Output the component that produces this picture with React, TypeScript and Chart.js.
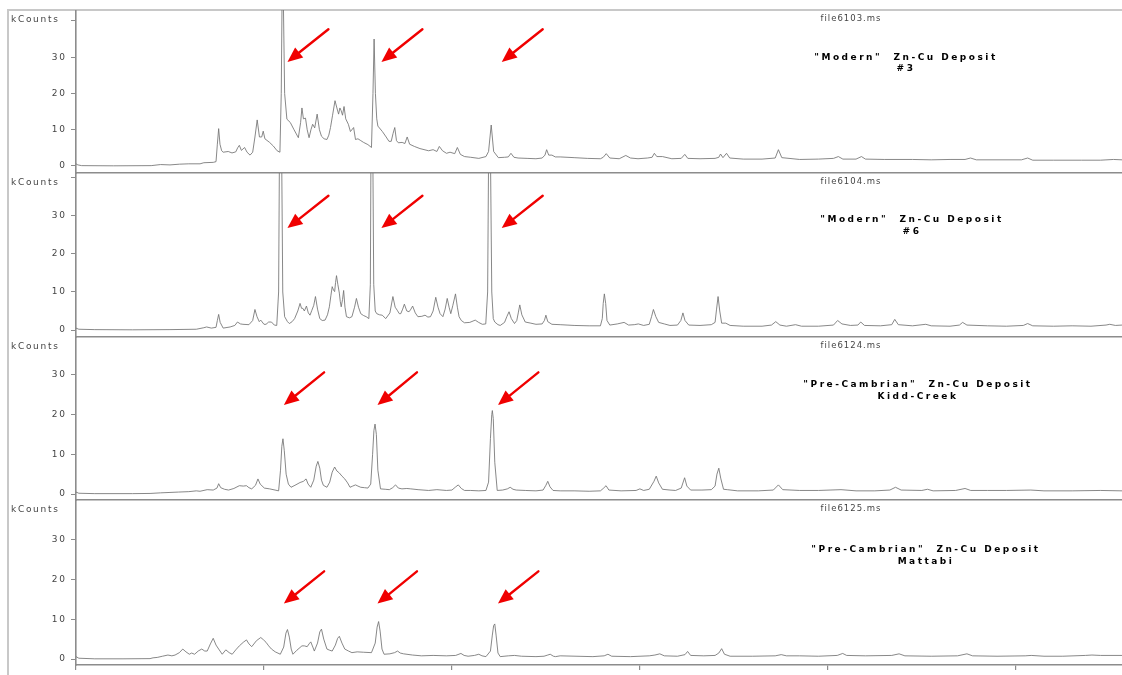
import React, { useEffect, useRef } from 'react';
import { Chart, registerables } from 'chart.js';

Chart.register(...registerables);

// ---------- data ----------
const FILE_NAMES = ['file6103.ms', 'file6104.ms', 'file6124.ms', 'file6125.ms'];
const TITLE_LINE1 = [
  '"Modern"  Zn-Cu Deposit',
  '"Modern"  Zn-Cu Deposit',
  '"Pre-Cambrian"  Zn-Cu Deposit',
  '"Pre-Cambrian"  Zn-Cu Deposit',
];
const TITLE_LINE2 = ['#3', '#6', 'Kidd-Creek', 'Mattabi'];
const Y_LABEL = 'kCounts';
const Y_TICK_LABELS = [0, 10, 20, 30];
const X_MIN = 0;
const X_MAX = 55.65;
const X_STEP = 10;

type Pt = [number, number];

const TRACE_1: Pt[] = [
  [0, 0.6], [0.1, 0.3], [0.3, 0.1], [2, 0.05], [4, 0.1], [4.5, 0.4], [5, 0.3], [5.5, 0.5], [6, 0.6], [6.6, 0.6], [6.8, 0.9], [7.3, 1.0], [7.45, 1.2],
  [7.52, 6], [7.59, 10.3], [7.66, 6], [7.75, 4.2], [7.83, 3.8], [8.1, 4.0], [8.3, 3.6], [8.5, 3.9],
  [8.6, 5.0], [8.69, 5.7], [8.8, 4.3], [8.97, 5.1], [9.1, 3.8], [9.26, 3.0], [9.4, 3.8], [9.52, 8], [9.64, 12.7], [9.76, 8], [9.88, 8.0], [9.96, 9.6], [10.05, 7.5], [10.3, 6.5], [10.5, 5.5], [10.7, 4.2], [10.85, 3.8],
  [10.92, 20], [10.97, 50], [11.02, 50], [11.1, 20], [11.22, 12.9], [11.4, 12], [11.6, 10], [11.83, 7.8], [11.95, 12], [12.02, 16], [12.1, 13], [12.21, 13.2], [12.3, 10], [12.4, 7.8], [12.5, 10], [12.59, 11.5], [12.7, 10.5], [12.83, 14.3], [12.95, 10], [13.06, 8.2], [13.2, 7.5], [13.35, 7.3], [13.45, 8.5], [13.54, 10.6], [13.65, 14], [13.78, 18], [13.88, 16], [13.97, 14.3], [14.04, 16], [14.11, 15.2], [14.18, 14], [14.26, 16.4], [14.35, 13], [14.49, 11.5], [14.6, 9.5], [14.77, 10.6], [14.87, 7.3], [15.0, 7.5], [15.15, 7.0], [15.3, 6.5], [15.53, 5.9], [15.72, 5.1],
  [15.8, 20], [15.86, 35], [15.93, 20], [16.0, 13], [16.06, 11], [16.3, 9.5], [16.5, 8], [16.65, 6.8], [16.77, 6.8], [16.87, 9], [16.96, 10.6], [17.05, 7], [17.15, 6.4], [17.35, 6.5], [17.5, 6.2], [17.62, 8], [17.75, 6], [18.0, 5.4], [18.3, 4.8], [18.76, 4.2], [19.0, 4.5], [19.2, 4.0], [19.33, 5.4], [19.5, 4.2], [19.71, 3.5], [19.9, 3.8], [20.15, 3.4], [20.29, 5.1], [20.45, 3.2], [20.67, 2.6], [21.0, 2.4], [21.43, 2.1], [21.81, 2.6], [21.95, 4], [22.09, 11.3], [22.22, 4], [22.47, 2.3], [22.8, 2.4], [23.0, 2.5], [23.14, 3.5], [23.3, 2.4], [23.52, 2.2], [24.0, 2.1], [24.47, 2.0], [24.8, 2.2], [24.95, 3], [25.04, 4.5], [25.15, 3], [25.32, 3.0], [25.5, 2.5], [25.76, 2.5],
  [26.5, 2.3], [27.2, 2.1], [27.9, 2.0], [28.05, 2.4], [28.21, 3.4], [28.4, 2.2], [28.9, 2.0], [29.25, 2.9], [29.5, 2.2], [29.9, 2.0], [30.4, 2.2], [30.65, 2.4], [30.77, 3.5], [30.9, 2.6], [31.2, 2.6], [31.7, 2.0], [32.2, 2.1], [32.39, 3.2], [32.55, 2.1], [33.2, 2.0], [34.0, 2.1], [34.2, 2.4], [34.29, 3.3], [34.42, 2.3], [34.61, 3.5], [34.78, 2.2], [35.5, 1.9], [36.5, 1.9], [37.2, 2.2], [37.37, 4.5], [37.55, 2.3], [38.5, 1.8], [39.5, 1.9], [40.3, 2.1], [40.56, 2.6], [40.8, 1.9], [41.5, 1.9], [41.79, 2.6], [42, 1.9], [43, 1.8], [44.5, 1.8], [45.5, 1.7], [46.5, 1.8], [47.3, 1.8], [47.59, 2.2], [47.9, 1.7], [49, 1.7], [50.3, 1.7], [50.63, 2.2], [50.9, 1.6], [52, 1.6], [53.5, 1.6], [54.5, 1.6], [55.2, 1.8], [55.65, 1.7],
];

const TRACE_2: Pt[] = [
  [0, 0.5], [0.15, 0.2], [1, 0.1], [3, 0.05], [5, 0.1], [6.4, 0.2], [6.8, 0.6], [6.95, 0.8], [7.2, 0.5], [7.45, 0.7], [7.52, 2.5], [7.59, 4.1], [7.67, 2], [7.83, 0.5], [8.2, 0.8], [8.45, 1.2], [8.59, 2.1], [8.75, 1.6], [8.88, 1.5], [9.2, 1.4], [9.4, 2.5], [9.52, 5.4], [9.63, 3.5], [9.75, 2.2], [9.83, 2.6], [10.0, 1.5], [10.11, 1.5], [10.25, 2.1], [10.4, 2.1], [10.55, 1.3], [10.68, 1.2],
  [10.78, 10], [10.84, 60], [10.92, 60], [11.0, 10], [11.1, 3.5], [11.25, 2.2], [11.35, 1.7], [11.5, 2.2], [11.63, 3], [11.8, 5], [11.92, 7], [12.0, 5.7], [12.07, 5.7], [12.15, 5], [12.26, 6.3], [12.36, 4.5], [12.45, 3.9], [12.55, 5.2], [12.65, 6.5], [12.74, 8.8], [12.85, 5.5], [12.97, 3], [13.1, 2.5], [13.25, 2.6], [13.38, 4], [13.48, 6.1], [13.56, 9], [13.63, 11.4], [13.7, 10.5], [13.76, 10.1], [13.81, 12.5], [13.86, 14.3], [13.93, 12], [14.01, 9.7], [14.06, 7.5], [14.11, 6.1], [14.18, 8], [14.24, 10.4], [14.31, 6], [14.39, 3.5], [14.55, 3.2], [14.68, 3.5], [14.82, 6], [14.92, 8.3], [15.03, 6], [15.15, 4.3], [15.3, 3.8], [15.44, 3.5], [15.58, 3],
  [15.66, 12], [15.7, 55], [15.78, 55], [15.84, 12], [15.92, 5], [16.0, 4.3], [16.15, 4], [16.29, 3.9], [16.48, 3], [16.7, 4.5], [16.86, 8.8], [16.98, 6], [17.09, 5.2], [17.2, 4.3], [17.28, 4.3], [17.38, 5.5], [17.47, 6.8], [17.6, 5], [17.72, 4.8], [17.82, 5.5], [17.91, 6.3], [18.05, 4.5], [18.19, 3.5], [18.4, 3.6], [18.57, 3.9], [18.72, 3.4], [18.86, 3.5], [19.0, 5], [19.14, 8.6], [19.26, 6], [19.37, 4.3], [19.52, 3.5], [19.64, 5.5], [19.75, 8.3], [19.85, 6], [19.94, 4.3], [20.05, 6.5], [20.19, 9.5], [20.29, 6], [20.38, 3.5], [20.5, 2.5], [20.67, 1.9], [20.95, 2], [21.24, 2.6], [21.42, 2], [21.62, 1.5], [21.8, 1.6],
  [21.9, 10], [21.96, 52], [22.04, 52], [22.12, 10], [22.2, 3], [22.28, 2.1], [22.45, 1.4], [22.57, 1.2], [22.8, 2], [22.92, 3.5], [23.04, 4.8], [23.16, 3], [23.33, 1.7], [23.45, 2.5], [23.53, 4.5], [23.61, 6.6], [23.72, 4], [23.9, 2.1], [24.2, 1.8], [24.47, 1.5], [24.8, 1.6], [24.92, 2.5], [25.0, 3.9], [25.1, 2.2], [25.32, 1.5], [25.76, 1.4],
  [26.5, 1.2], [27.3, 1.1], [27.9, 1.1], [28.0, 3], [28.05, 7], [28.11, 9.5], [28.18, 7], [28.25, 2.5], [28.4, 1.3], [28.8, 1.6], [29.16, 2], [29.4, 1.3], [29.7, 1.4], [29.92, 1.6], [30.2, 1.2], [30.5, 1.5], [30.62, 3.5], [30.72, 5.4], [30.85, 3.5], [31.0, 2], [31.3, 1.6], [31.6, 1.2], [32.0, 1.3], [32.18, 2.5], [32.29, 4.5], [32.4, 2.5], [32.6, 1.3], [33.2, 1.2], [33.8, 1.4], [34.0, 2], [34.08, 5.5], [34.16, 8.8], [34.25, 5], [34.35, 1.8], [34.57, 1.8], [34.8, 1.2], [35.5, 1.0], [36.5, 1.0], [37.0, 1.3], [37.23, 2.2], [37.45, 1.3], [37.8, 1.0], [38.28, 1.4], [38.6, 1.0], [39.5, 1.0], [40.3, 1.3], [40.52, 2.5], [40.75, 1.6], [41.2, 1.2], [41.6, 1.3], [41.75, 2.1], [41.95, 1.2], [42.8, 1.1], [43.4, 1.4], [43.56, 2.8], [43.75, 1.4], [44.5, 1.1], [45.21, 1.5], [45.5, 1.1], [46.5, 1.0], [47.0, 1.3], [47.17, 2], [47.4, 1.3], [48.5, 1.1], [49.5, 1.0], [50.4, 1.2], [50.63, 1.7], [50.9, 1.1], [52, 1.0], [53, 1.1], [54, 1.0], [54.8, 1.3], [55.0, 1.5], [55.3, 1.2], [55.65, 1.3],
];

const TRACE_3: Pt[] = [
  [0, 0.5], [0.15, 0.2], [1, 0.1], [3, 0.1], [3.94, 0.15], [4.5, 0.3], [5.0, 0.4], [5.46, 0.5], [6.0, 0.6], [6.4, 0.8], [6.6, 0.7], [6.98, 1.1], [7.3, 1.0], [7.5, 1.5], [7.59, 2.6], [7.7, 1.6], [7.9, 1.2], [8.12, 1.0], [8.4, 1.4], [8.69, 2.1], [8.9, 2.0], [9.07, 2.1], [9.2, 1.6], [9.35, 1.3], [9.55, 2.2], [9.68, 3.8], [9.8, 2.5], [10.02, 1.5], [10.3, 1.3], [10.59, 1.0], [10.78, 0.8],
  [10.88, 6], [10.95, 12], [11.01, 13.9], [11.08, 11], [11.18, 5], [11.3, 2.5], [11.44, 1.7], [11.65, 2.2], [11.92, 2.9], [12.1, 3.2], [12.24, 3.8], [12.35, 2.5], [12.49, 1.7], [12.65, 3.5], [12.78, 7], [12.87, 8.2], [12.97, 6.5], [13.06, 3.5], [13.16, 2.2], [13.35, 1.7], [13.5, 3], [13.63, 5.5], [13.76, 6.8], [13.88, 5.8], [14.01, 5.3], [14.15, 4.5], [14.3, 3.8], [14.45, 2.8], [14.58, 1.7], [14.72, 2], [14.87, 2.3], [15.0, 2], [15.15, 1.7], [15.35, 1.6], [15.53, 1.5], [15.68, 2.5],
  [15.78, 10], [15.85, 16], [15.91, 17.6], [15.98, 15], [16.06, 6], [16.2, 1.3], [16.45, 1.2], [16.67, 1.1], [16.85, 1.6], [17.0, 2.3], [17.15, 1.5], [17.34, 1.3], [17.6, 1.4], [17.81, 1.3], [18.2, 1.1], [18.76, 0.9], [19.2, 1.1], [19.71, 0.9], [20.0, 1.0], [20.2, 1.8], [20.34, 2.3], [20.5, 1.4], [20.67, 0.9], [21.0, 0.9], [21.43, 0.8], [21.81, 0.9],
  [21.95, 3], [22.05, 14], [22.12, 20], [22.15, 21], [22.2, 19], [22.28, 8], [22.41, 0.9], [22.7, 1.0], [22.95, 1.3], [23.1, 1.7], [23.25, 1.2], [23.42, 1.0], [23.9, 0.9], [24.47, 0.8], [24.85, 1.0], [25.0, 2.2], [25.1, 3.2], [25.22, 1.8], [25.38, 0.9], [25.76, 0.8],
  [26.5, 0.8], [27.3, 0.7], [27.9, 0.8], [28.05, 1.4], [28.2, 2.1], [28.35, 1.0], [29.0, 0.8], [29.8, 0.9], [30.0, 1.3], [30.2, 0.9], [30.5, 1.2], [30.75, 3.2], [30.87, 4.5], [31.0, 2.8], [31.2, 1.2], [31.6, 1.0], [31.9, 0.9], [32.2, 1.5], [32.38, 4.1], [32.5, 2], [32.7, 1.0], [33.3, 1.0], [33.8, 1.1], [34.0, 2], [34.1, 5], [34.2, 6.5], [34.3, 4], [34.45, 1.2], [34.65, 1.1], [35.2, 0.8], [36.3, 0.8], [37.1, 1.0], [37.37, 2.3], [37.6, 1.1], [38.5, 0.9], [39.5, 0.9], [40.7, 1.1], [41.5, 0.8], [42.5, 0.8], [43.3, 1.0], [43.6, 1.7], [43.9, 1.0], [45.0, 0.9], [45.3, 1.2], [45.6, 0.8], [46.8, 0.9], [47.3, 1.4], [47.6, 0.9], [48.5, 0.9], [49.5, 0.9], [50.8, 1.0], [51.5, 0.8], [53, 0.8], [54.5, 0.9], [55.65, 0.8],
];

const TRACE_4: Pt[] = [
  [0, 0.6], [0.15, 0.2], [1, 0.05], [2.5, 0.05], [3.94, 0.1], [4.1, 0.3], [4.32, 0.4], [4.6, 0.7], [4.89, 1.0], [5.1, 0.8], [5.27, 1.0], [5.5, 1.6], [5.68, 2.5], [5.85, 1.8], [6.03, 1.2], [6.15, 1.5], [6.31, 1.2], [6.5, 2.0], [6.69, 2.5], [6.85, 2.0], [6.98, 2.0], [7.15, 3.8], [7.3, 5.2], [7.45, 3.5], [7.59, 2.5], [7.78, 1.2], [7.97, 2.3], [8.15, 1.6], [8.31, 1.2], [8.5, 2.3], [8.69, 3.3], [8.9, 4.2], [9.07, 4.8], [9.2, 3.8], [9.35, 3.1], [9.6, 4.6], [9.83, 5.4], [9.98, 4.8], [10.11, 4.2], [10.25, 3.3], [10.4, 2.5], [10.6, 1.8], [10.87, 1.2],
  [11.05, 3], [11.17, 6.5], [11.25, 7.4], [11.35, 5.5], [11.45, 2.5], [11.54, 1.2], [11.75, 2.2], [12.02, 3.3], [12.15, 3.3], [12.3, 3.1], [12.4, 3.8], [12.49, 4.3], [12.6, 3], [12.68, 2], [12.85, 4], [12.97, 6.8], [13.06, 7.5], [13.18, 5], [13.35, 2.5], [13.5, 2.2], [13.63, 2], [13.8, 3.5], [13.92, 5.2], [14.01, 5.7], [14.15, 4], [14.3, 2.5], [14.5, 2.0], [14.68, 1.6], [14.96, 1.8], [15.3, 1.7], [15.72, 1.6],
  [15.92, 4], [16.02, 8], [16.1, 9.4], [16.18, 7], [16.28, 2.5], [16.39, 1.2], [16.7, 1.3], [16.95, 1.6], [17.11, 2], [17.25, 1.5], [17.43, 1.3], [17.9, 1.0], [18.38, 0.8], [19.0, 0.9], [19.71, 0.8], [20.2, 0.9], [20.48, 1.4], [20.65, 0.9], [20.86, 0.7], [21.2, 0.9], [21.43, 1.2], [21.6, 0.8], [21.81, 0.6],
  [22.05, 2], [22.15, 6], [22.22, 8.4], [22.28, 8.8], [22.35, 6], [22.45, 1.5], [22.57, 0.6], [23.0, 0.8], [23.33, 0.9], [23.7, 0.7], [24.47, 0.6], [24.9, 0.7], [25.1, 1.0], [25.23, 1.2], [25.4, 0.7], [25.51, 0.6], [25.76, 0.8],
  [26.6, 0.7], [27.5, 0.6], [28.1, 0.8], [28.3, 1.2], [28.5, 0.7], [29.5, 0.6], [30.5, 0.8], [30.8, 1.0], [31.06, 1.3], [31.3, 0.8], [32.0, 0.7], [32.4, 1.1], [32.54, 1.9], [32.7, 0.9], [33.4, 0.8], [34.0, 0.9], [34.2, 1.5], [34.35, 2.6], [34.5, 1.2], [34.8, 0.7], [36.0, 0.7], [37.2, 0.8], [37.52, 1.1], [37.8, 0.8], [38.5, 0.8], [39.5, 0.7], [40.5, 0.9], [40.79, 1.4], [41.0, 0.9], [42.0, 0.8], [43.4, 0.9], [43.79, 1.3], [44.1, 0.8], [45.5, 0.7], [46.9, 0.8], [47.4, 1.3], [47.7, 0.8], [49.0, 0.7], [50.5, 0.8], [50.82, 0.9], [51.5, 0.7], [52.5, 0.7], [53.7, 0.9], [54.05, 1.0], [54.5, 0.9], [55.65, 0.9],
];

// arrows: [tailX, tailY, headX, headY] in data units
const ARROWS_1: number[][] = [[13.43, 37.7, 11.25, 28.7], [18.43, 37.7, 16.25, 28.7], [24.83, 37.7, 22.65, 28.7]];
const ARROWS_2: number[][] = [[13.43, 35.3, 11.25, 26.8], [18.43, 35.3, 16.25, 26.8], [24.83, 35.3, 22.65, 26.8]];
const ARROWS_3: number[][] = [[13.2, 30.6, 11.06, 22.4], [18.14, 30.6, 16.04, 22.4], [24.6, 30.6, 22.45, 22.4]];
const ARROWS_4: number[][] = [[13.2, 22.0, 11.06, 13.9], [18.14, 22.0, 16.04, 13.9], [24.6, 22.0, 22.45, 13.9]];

const TRACES = [TRACE_1, TRACE_2, TRACE_3, TRACE_4];
const ARROWS = [ARROWS_1, ARROWS_2, ARROWS_3, ARROWS_4];
const Y_MIN = [-1.93, -1.84, -1.5, -1.5];
const Y_MAX = [43.0, 41.3, 39.5, 39.9];

// ---------- layout / style ----------
const CANVAS_LEFT = 8;
const CANVAS_W = 1114;
const Y_AXIS_W = 68;
const PANEL_TOP = [10, 173, 337, 500];
const AREA_H = [163, 164, 163, 165];
const X_AXIS_H = [1, 1, 1, 10];
const FILE_X = 851;
const FILE_DY = 9;
const TITLE_X = [906, 912, 918, 926];
const TITLE1_DY = [47.3, 46.5, 48, 50];
const TITLE2_DY = [59, 58.5, 59.5, 62];
const AXIS_COLOR = '#8c8c8c';
const TEXT_COLOR = '#444444';
const LINE_COLOR = '#727272';
const ARROW_COLOR = '#f00000';
const FONT = '"DejaVu Sans", Verdana, sans-serif';

function drawArrow(ctx: CanvasRenderingContext2D, x1: number, y1: number, x2: number, y2: number) {
  const ang = Math.atan2(y2 - y1, x2 - x1);
  const headLen = 15;
  const headHalf = 6.5;
  const bx = x2 - headLen * Math.cos(ang);
  const by = y2 - headLen * Math.sin(ang);
  ctx.save();
  ctx.strokeStyle = ARROW_COLOR;
  ctx.fillStyle = ARROW_COLOR;
  ctx.lineWidth = 2.4;
  ctx.lineCap = 'round';
  ctx.beginPath();
  ctx.moveTo(x1, y1);
  ctx.lineTo(bx + 2 * Math.cos(ang), by + 2 * Math.sin(ang));
  ctx.stroke();
  ctx.beginPath();
  ctx.moveTo(x2, y2);
  ctx.lineTo(bx + headHalf * Math.sin(ang), by - headHalf * Math.cos(ang));
  ctx.lineTo(bx - headHalf * Math.sin(ang), by + headHalf * Math.cos(ang));
  ctx.closePath();
  ctx.fill();
  ctx.restore();
}

function Panel({ index }: { index: number }) {
  const ref = useRef<HTMLCanvasElement | null>(null);
  const canvasH = AREA_H[index] + X_AXIS_H[index];

  useEffect(() => {
    const canvas = ref.current;
    if (!canvas) return;

    const overlay = {
      id: 'overlay' + index,
      beforeDraw(chart: any) {
        chart.ctx.letterSpacing = '1.6px';
      },
      afterDraw(chart: any) {
        const ctx: CanvasRenderingContext2D = chart.ctx;
        const xs = chart.scales.x;
        const ys = chart.scales.y;
        ctx.save();
        ctx.textBaseline = 'middle';
        // y label
        (ctx as any).letterSpacing = '1.7px';
        ctx.fillStyle = TEXT_COLOR;
        ctx.font = `9px ${FONT}`;
        ctx.textAlign = 'left';
        ctx.fillText(Y_LABEL, 11 - CANVAS_LEFT, FILE_DY + 0.5);
        // file name
        ctx.textAlign = 'center';
        (ctx as any).letterSpacing = '1px';
        ctx.font = `8.5px ${FONT}`;
        ctx.fillText(FILE_NAMES[index], FILE_X - CANVAS_LEFT, FILE_DY);
        // title
        ctx.fillStyle = '#000';
        ctx.font = `bold 9px ${FONT}`;
        (ctx as any).letterSpacing = '2.5px';
        ctx.fillText(TITLE_LINE1[index], TITLE_X[index] - CANVAS_LEFT, TITLE1_DY[index]);
        ctx.fillText(TITLE_LINE2[index], TITLE_X[index] - CANVAS_LEFT, TITLE2_DY[index]);
        ctx.restore();
        // arrows
        for (const a of ARROWS[index]) {
          drawArrow(
            ctx,
            xs.getPixelForValue(a[0]),
            ys.getPixelForValue(a[1]),
            xs.getPixelForValue(a[2]),
            ys.getPixelForValue(a[3])
          );
        }
      },
    };

    const chart = new Chart(canvas, {
      type: 'line',
      data: {
        datasets: [
          {
            data: TRACES[index].map(([x, y]) => ({ x, y })),
            borderColor: LINE_COLOR,
            borderWidth: 0.85,
            pointRadius: 0,
            tension: 0,
            fill: false,
          },
        ],
      },
      options: {
        animation: false,
        responsive: false,
        maintainAspectRatio: false,
        events: [],
        layout: { padding: 0 },
        plugins: {
          legend: { display: false },
          tooltip: { enabled: false },
          title: { display: false },
        },
        scales: {
          x: {
            type: 'linear',
            min: X_MIN,
            max: X_MAX,
            position: 'bottom',
            afterFit: (s: any) => {
              s.height = X_AXIS_H[index];
              s.paddingLeft = 0;
              s.paddingRight = 0;
            },
            ticks: { display: false, stepSize: X_STEP, includeBounds: false },
            grid: {
              display: true,
              drawOnChartArea: false,
              drawTicks: index === 3,
              tickLength: 5,
              color: AXIS_COLOR,
              lineWidth: 1.2,
            },
            border: { display: true, color: AXIS_COLOR, width: 1.6 },
          },
          y: {
            type: 'linear',
            min: Y_MIN[index],
            max: Y_MAX[index],
            afterFit: (s: any) => {
              s.width = Y_AXIS_W;
              s.paddingTop = 0;
              s.paddingBottom = 0;
            },
            ticks: {
              stepSize: 10,
              includeBounds: false,
              padding: 4.5,
              color: TEXT_COLOR,
              font: { family: FONT, size: 9 },
              callback: (v: any) => (Y_TICK_LABELS.includes(v) ? String(v) : ''),
            },
            grid: { drawOnChartArea: false, drawTicks: true, tickLength: 5, color: AXIS_COLOR, lineWidth: 1 },
            border: { display: true, color: AXIS_COLOR, width: 1.6 },
          },
        },
      } as any,
      plugins: [overlay],
    });
    return () => chart.destroy();
  }, [index]);

  return (
    <canvas
      ref={ref}
      width={CANVAS_W}
      height={canvasH}
      style={{
        position: 'absolute',
        left: CANVAS_LEFT,
        top: PANEL_TOP[index],
        width: CANVAS_W,
        height: canvasH,
      }}
    />
  );
}

export default function App() {
  return (
    <div style={{ position: 'absolute', left: 0, top: 0, width: 1122, height: 675, overflow: 'hidden', background: '#fff' }}>
      <div
        style={{
          position: 'absolute',
          left: CANVAS_LEFT - 1,
          top: PANEL_TOP[0] - 1,
          width: 1122,
          height: 700,
          borderLeft: '2px solid #c8c8c8',
          borderTop: '2px solid #c8c8c8',
          boxSizing: 'border-box',
        }}
      />
      {[0, 1, 2, 3].map((i) => (
        <Panel key={i} index={i} />
      ))}
    </div>
  );
}
